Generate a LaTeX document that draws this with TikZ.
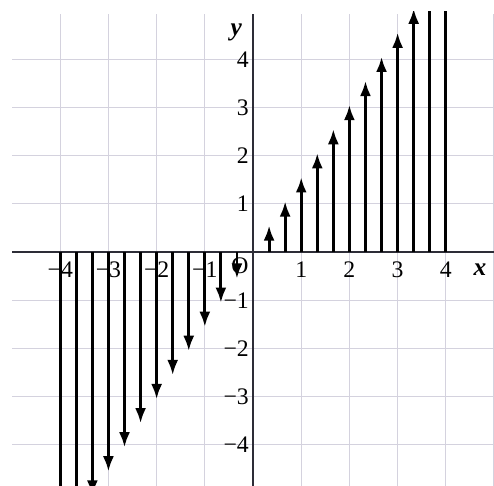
\documentclass[tikz,border=0pt]{standalone}
\usepackage{fontspec}
\setmainfont{Liberation Serif}
\usetikzlibrary{arrows.meta}
\definecolor{gridgray}{RGB}{212,210,222}
\definecolor{axisgray}{RGB}{45,45,55}

\begin{document}
\begin{tikzpicture}[
    gridline/.style={draw=gridgray, line width=0.6pt},
    axisline/.style={draw=axisgray, line width=1pt},
    vec/.style={line width=1.7pt, shorten >=-1.5pt, -{Latex[length=9pt,width=6.5pt]}},
    numlabel/.style={font=\fontsize{14}{16}\selectfont, inner sep=0pt},
    axislabel/.style={font=\fontsize{15}{17}\selectfont\bfseries\itshape, inner sep=0pt}]
    \useasboundingbox (-5.25,-4.85) rectangle (5.0,5.23);
    % grid
    \foreach \k in {-4,...,5}
        \draw [gridline] (\k,-4.85) -- (\k,4.94);
    \foreach \k in {-4,...,4}
        \draw [gridline] (-5,\k) -- (5,\k);
    % axes
    \draw [axisline] (-5,0) -- (5,0);
    \draw [axisline] (0,-4.85) -- (0,4.94);
    \node [axislabel] (xlab) at (4.71,-0.37) {x};
    \node [axislabel] (ylab) at (-0.35,4.56) {y};
    \node [numlabel] (orig) at (-0.27,-0.29) {O};
    \foreach \k in {1,...,4} {
        \node [numlabel] (xp\k) at (\k,-0.37) {\k};
        \node [numlabel] (xm\k) at (-\k,-0.37) {−\k};
        \node [numlabel, anchor=east] (yp\k) at (-0.08,\k) {\k};
        \node [numlabel, anchor=east] (ym\k) at (-0.08,-\k) {−\k};
    }
    % vectors
    \begin{scope}
        \clip (-5.25,-4.85) rectangle (5,5.0);
        \foreach \i in {1,...,12} {
            \draw [vec] (\i/3,0) -- (\i/3,\i/2);
            \draw [vec] (-\i/3,0) -- (-\i/3,-\i/2);
        }
    \end{scope}
\end{tikzpicture}
\end{document}
